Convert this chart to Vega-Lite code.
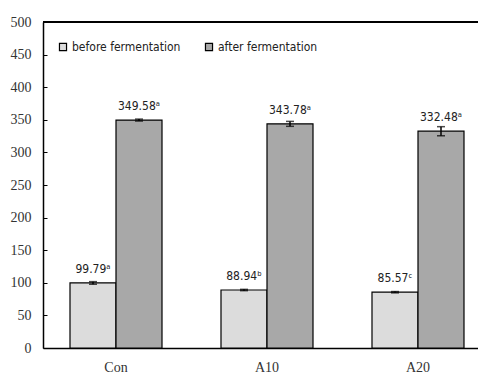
{
  "$schema": "https://vega.github.io/schema/vega-lite/v6.json",
  "width": 435,
  "height": 326,
  "autosize": {"type": "none"},
  "padding": {"left": 43, "top": 22, "right": 0, "bottom": 26},
  "background": "white",
  "config": {
    "view": {"stroke": null},
    "axis": {"labelFont": "Liberation Serif", "labelColor": "#333", "domainColor": "black", "tickColor": "black", "domainWidth": 1.5, "labelFontSize": 14, "labelOverlap": false},
    "axisX": {"labelAngle": 0, "ticks": false, "labelPadding": 12}
  },
  "data": {
    "values": [
      {"group": "Con", "stage": "before fermentation", "value": 99.79, "lo": 97.79, "hi": 101.79, "label": "99.79ᵃ"},
      {"group": "Con", "stage": "after fermentation", "value": 349.58, "lo": 348.08, "hi": 351.08, "label": "349.58ᵃ"},
      {"group": "A10", "stage": "before fermentation", "value": 88.94, "lo": 87.94, "hi": 89.94, "label": "88.94ᵇ"},
      {"group": "A10", "stage": "after fermentation", "value": 343.78, "lo": 340.0, "hi": 347.56, "label": "343.78ᵃ"},
      {"group": "A20", "stage": "before fermentation", "value": 85.57, "lo": 84.57, "hi": 86.57, "label": "85.57ᶜ"},
      {"group": "A20", "stage": "after fermentation", "value": 332.48, "lo": 325.5, "hi": 339.46, "label": "332.48ᵃ"}
    ]
  },
  "encoding": {
    "x": {
      "field": "group", "type": "nominal", "sort": ["Con", "A10", "A20"], "title": null,
      "scale": {"range": [0, 448], "paddingInner": 0.3907, "paddingOuter": 0.1788}
    },
    "xOffset": {"field": "stage", "type": "nominal", "scale": {"domain": ["before fermentation", "after fermentation"], "paddingInner": 0}},
    "y": {
      "field": "value", "type": "quantitative", "title": null,
      "scale": {"domain": [0, 500], "nice": false},
      "axis": {"values": [0, 50, 100, 150, 200, 250, 300, 350, 400, 450, 500], "labelOverlap": false, "grid": false, "tickSize": -4, "labelPadding": 16}
    }
  },
  "layer": [
    {
      "mark": {"type": "bar", "stroke": "black", "strokeWidth": 1.2},
      "encoding": {
        "fill": {
          "field": "stage", "type": "nominal",
          "scale": {"domain": ["before fermentation", "after fermentation"], "range": ["#dcdcdc", "#a8a8a8"]},
          "legend": {
            "orient": "none", "legendX": 14, "legendY": 19, "direction": "horizontal", "title": null,
            "symbolType": "square", "symbolSize": 50, "symbolStrokeColor": "black", "symbolStrokeWidth": 1.2,
            "labelFont": "DejaVu Sans Condensed", "labelFontSize": 12, "labelColor": "#222", "columnPadding": 22, "labelOffset": 3
          }
        }
      }
    },
    {
      "mark": {"type": "rule", "color": "black", "strokeWidth": 1.5},
      "encoding": {"y": {"datum": 500, "type": "quantitative"}, "x": null, "xOffset": null}
    },
    {
      "mark": {"type": "rule", "color": "black", "strokeWidth": 1.5},
      "encoding": {"y": {"field": "lo", "type": "quantitative"}, "y2": {"field": "hi"}}
    },
    {
      "mark": {"type": "tick", "color": "black", "size": 8, "thickness": 1.5},
      "encoding": {"y": {"field": "lo", "type": "quantitative"}}
    },
    {
      "mark": {"type": "tick", "color": "black", "size": 8, "thickness": 1.5},
      "encoding": {"y": {"field": "hi", "type": "quantitative"}}
    },
    {
      "mark": {"type": "text", "baseline": "bottom", "dy": -7, "font": "DejaVu Sans Condensed", "fontSize": 12, "color": "#222"},
      "encoding": {"text": {"field": "label"}}
    }
  ]
}
